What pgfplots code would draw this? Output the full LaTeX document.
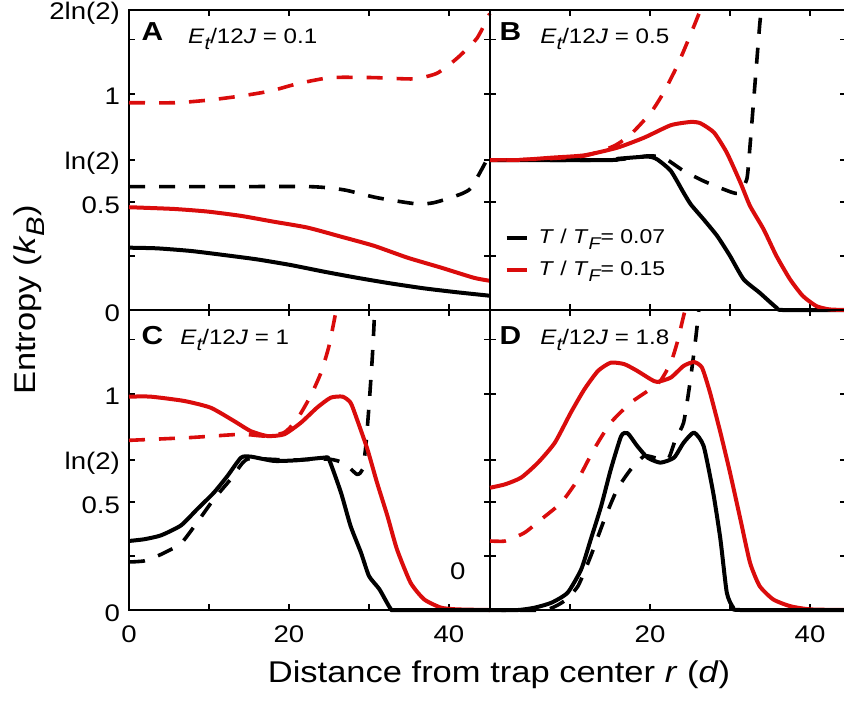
\documentclass[border=0pt]{standalone}
\usepackage{fontspec}
\setmainfont{Liberation Sans}[FakeStretch=1.15]
\usepackage{pgfplots}
\pgfplotsset{compat=1.18}
\definecolor{myred}{RGB}{218,12,12}

\newcommand\sbs[1]{\raisebox{-0.55ex}{\scalebox{0.85}{\itshape #1}}}
\newcommand\tickfont{\fontsize{12}{14}\selectfont}
\newcommand\tl[1]{\mbox{\tickfont #1}}
\newcommand\panelfont{\fontsize{10.5}{12}\selectfont}
\newcommand\letterfont{\fontsize{13}{15}\selectfont\bfseries}

\pgfplotsset{
  panel/.style={
    scale only axis, height=150pt,
    xmin=0, ymin=0, ymax=1.386294,
    axis line style={line width=1pt},
    tick style={line width=0.9pt, black},
    major tick length=3.2pt,
    tick align=inside,
    xtick pos=both, ytick pos=both,
    xtick={0,10,20,30,40},
    ytick={0,0.25,0.5,0.693147,1,1.25,1.386294},
    xticklabels={}, yticklabels={},
    tick label style={font=\tickfont},
    yticklabel style={xshift=-1pt, yshift=-1.5pt},
    xticklabel style={yshift=-4.5pt},
    clip=false, no markers,
  },
  solidk/.style={black, line width=2pt, line join=round, smooth, tension=0.35},
  solidr/.style={myred, line width=2pt, line join=round, smooth, tension=0.35},
  dashk/.style={black, line width=1.8pt, dash pattern=on 8pt off 7pt, smooth, tension=0.35},
  dashr/.style={myred, line width=1.8pt, dash pattern=on 8pt off 7pt, smooth, tension=0.35},
}

\begin{document}
\begin{tikzpicture}

% ---- A ----
\begin{axis}[panel, at={(64.5pt,-155pt)}, anchor=south west, width=180.5pt, xmax=45.125,
  yticklabels={\tl{0},,\tl{0.5},\tl{ln(2)},\tl{1},,\tl{2ln(2)}}]
\addplot[dashr] coordinates {(0,0.958) (6,0.958) (10.2,0.971) (14,0.989) (17.7,1.012) (21,1.045) (25.2,1.074) (30.6,1.074) (35.6,1.068) (38.5,1.094) (41,1.163) (43.5,1.256) (45.1,1.37)};
\addplot[dashk] coordinates {(0,0.570) (10,0.570) (22.7,0.570) (26.9,0.555) (31,0.519) (36,0.49) (38.1,0.496) (40.6,0.524) (42.7,0.562) (45.1,0.72)};
\addplot[solidr] coordinates {(0,0.475) (5.6,0.467) (9.8,0.455) (14,0.435) (18.1,0.408) (22.3,0.381) (26.5,0.339) (30.6,0.297) (34.8,0.242) (39,0.196) (43.1,0.149) (45.1,0.135)};
\addplot[solidk] coordinates {(0,0.288) (3.5,0.285) (7.7,0.273) (11.9,0.254) (16,0.234) (20.2,0.208) (24.4,0.177) (28.5,0.149) (32.7,0.123) (36.9,0.100) (41,0.082) (45.1,0.066)};
\node[anchor=base west, inner sep=0, font=\letterfont] at (rel axis cs:0.034,0.9) {A};
\node[anchor=base west, inner sep=0, font=\panelfont] at (rel axis cs:0.163,0.89) {\textit{E}\sbs{t}/12\textit{J} = 0.1};
\end{axis}

% ---- B ----
\begin{axis}[panel, at={(245pt,-155pt)}, anchor=south west, width=178pt, xmax=44.5,
  legend style={at={(0.04,0.285)}, anchor=north west, draw=none, fill=none,
    font=\fontsize{10}{12}\selectfont, row sep=3.5pt, inner sep=0pt},
  legend cell align=left,
  legend image code/.code={\draw[#1, line width=2pt] (0pt,0pt) -- (10pt,0pt);}]
\addplot[solidk] coordinates {(0,0.693) (15.1,0.693) (16,0.699) (19.7,0.709) (20.9,0.696) (22.6,0.643) (24.2,0.542) (25.1,0.488) (26.7,0.419) (28.4,0.342) (30,0.250) (31.7,0.142) (33.7,0.080) (35.8,0.011) (36.6,0) (44.5,0)};
\addlegendentry{\hspace{3pt}\textit{T} / \textit{T}\sbs{F}= 0.07}
\addplot[solidr] coordinates {(0,0.693) (3.5,0.693) (7.7,0.704) (11.8,0.715) (15.9,0.750) (19.3,0.797) (22.6,0.854) (25.1,0.869) (26.3,0.863) (28,0.820) (29.6,0.727) (31.3,0.589) (32.5,0.481) (34.2,0.373) (35.8,0.250) (37.5,0.142) (39.1,0.065) (40.8,0.018) (42.4,0.003) (44.5,0)};
\addlegendentry{\hspace{3pt}\textit{T} / \textit{T}\sbs{F}= 0.15}
\addplot[dashk, forget plot] coordinates {(0,0.693) (15,0.693) (19.7,0.712) (21.7,0.704) (24.2,0.643) (26.7,0.596) (29.2,0.558) (31,0.539) (32.1,0.604) (32.5,0.758) (32.9,0.943) (33.3,1.128) (33.7,1.313) (33.9,1.386)};
\addplot[dashr, forget plot] coordinates {(0,0.693) (6,0.697) (11.8,0.712) (15.5,0.758) (17.6,0.812) (20.1,0.912) (21.7,1.005) (23.4,1.128) (25,1.267) (26.3,1.386)};
\node[anchor=base west, inner sep=0, font=\letterfont] at (rel axis cs:0.026,0.9) {B};
\node[anchor=base west, inner sep=0, font=\panelfont] at (rel axis cs:0.14,0.89) {\textit{E}\sbs{t}/12\textit{J} = 0.5};
\end{axis}

% ---- C ----
\begin{axis}[panel, at={(64.5pt,-305pt)}, anchor=south west, width=180.5pt, xmax=45.125,
  yticklabels={\tl{0},,\tl{0.5},\tl{ln(2)},\tl{1},,}, xticklabels={\tl{0},,\tl{20},,\tl{40}}]
\addplot[dashr] coordinates {(0,0.784) (7.7,0.797) (14,0.812) (16.9,0.804) (19.4,0.820) (21,0.881) (22.7,0.989) (24,1.097) (25,1.220) (25.9,1.386)};
\addplot[dashk] coordinates {(0,0.222) (1.9,0.227) (4,0.257) (6.5,0.308) (8.5,0.404) (10.6,0.512) (12.7,0.604) (14.2,0.680) (15.2,0.700) (20,0.693) (25,0.697) (26.9,0.678) (28.5,0.627) (29.2,0.650) (29.6,0.758) (30,0.943) (30.4,1.159) (30.6,1.297) (30.7,1.386)};
\addplot[solidr] coordinates {(0,0.986) (2.7,0.986) (6.9,0.966) (10.2,0.935) (13.1,0.874) (15.2,0.827) (17.3,0.804) (19.4,0.812) (21.5,0.866) (23.5,0.935) (25.2,0.981) (26.7,0.986) (27.7,0.958) (28.5,0.881) (29.8,0.743) (31,0.589) (32.3,0.435) (33.5,0.280) (35.2,0.126) (36.9,0.049) (39,0.011) (41,0.003) (45.1,0)};
\addplot[solidk] coordinates {(0,0.319) (1.9,0.327) (4,0.345) (6.5,0.391) (8.5,0.465) (10.6,0.542) (12.3,0.619) (14,0.704) (15.2,0.709) (18.1,0.689) (21,0.692) (24.4,0.704) (25,0.696) (26.5,0.542) (27.7,0.388) (29,0.265) (30,0.157) (31.3,0.096) (32.7,0.006) (33.5,0) (45.1,0)};
\node[anchor=base west, inner sep=0, font=\letterfont] at (rel axis cs:0.034,0.885) {C};
\node[anchor=base west, inner sep=0, font=\panelfont] at (rel axis cs:0.141,0.885) {\textit{E}\sbs{t}/12\textit{J} = 1};
\node[font=\tickfont] at (axis cs:41.1,0.181) {0};
\end{axis}

% ---- D ----
\begin{axis}[panel, at={(245pt,-305pt)}, anchor=south west, width=178pt, xmax=44.5,
  xticklabels={,,\tl{20},,\tl{40}}]
\addplot[dashr] coordinates {(0,0.319) (1.9,0.319) (4.3,0.357) (6.4,0.419) (8.9,0.496) (11,0.604) (13,0.743) (15.1,0.866) (17.6,0.958) (19.7,1.012) (21.3,1.059) (22.6,1.143) (23.4,1.236) (24.2,1.359) (24.4,1.386)};
\addplot[dashk] coordinates {(0,0) (6.8,0) (9.3,0.042) (11,0.111) (12.6,0.250) (14.3,0.419) (15.9,0.558) (17.6,0.650) (19.3,0.712) (21,0.70) (22.3,0.70) (23.2,0.79) (24.2,0.866) (25,1.051) (25.7,1.251) (26.1,1.386)};
\addplot[solidr] coordinates {(0,0.565) (1.9,0.581) (3.9,0.612) (6,0.681) (8.1,0.773) (10.1,0.912) (11.8,1.020) (13.5,1.105) (15.1,1.143) (16.8,1.136) (18.4,1.105) (20.1,1.066) (20.9,1.054) (22.6,1.074) (24.2,1.128) (25.5,1.146) (26.5,1.120) (27.5,1.005) (28.8,0.820) (30,0.635) (31.3,0.419) (32.5,0.219) (33.7,0.111) (35.4,0.049) (37.5,0.018) (40,0.003) (44.5,0)};
\addplot[solidk] coordinates {(0,0) (3.5,0) (5.6,0.011) (7.7,0.034) (9.7,0.080) (11.4,0.188) (12.6,0.327) (13.9,0.481) (15.1,0.650) (16.4,0.804) (17.2,0.817) (18.4,0.758) (19.7,0.704) (21.3,0.681) (23,0.704) (24.2,0.773) (25.5,0.820) (26.7,0.758) (27.9,0.542) (28.8,0.327) (29.6,0.080) (30.4,0.011) (31.3,0) (44.5,0)};
\node[anchor=base west, inner sep=0, font=\letterfont] at (rel axis cs:0.026,0.885) {D};
\node[anchor=base west, inner sep=0, font=\panelfont] at (rel axis cs:0.14,0.885) {\textit{E}\sbs{t}/12\textit{J} = 1.8};
\end{axis}

\node[rotate=90, font=\fontsize{15}{18}\selectfont] at (14.5pt,-150pt) {Entropy (\textit{k}\sbs{B})};
\node[font=\fontsize{15}{18}\selectfont] at (249.5pt,-337.5pt) {Distance from trap center \textit{r} (\textit{d})};

\pgfresetboundingbox
\path[use as bounding box] (0,0) rectangle (422pt,-351.5pt);
\end{tikzpicture}
\end{document}
